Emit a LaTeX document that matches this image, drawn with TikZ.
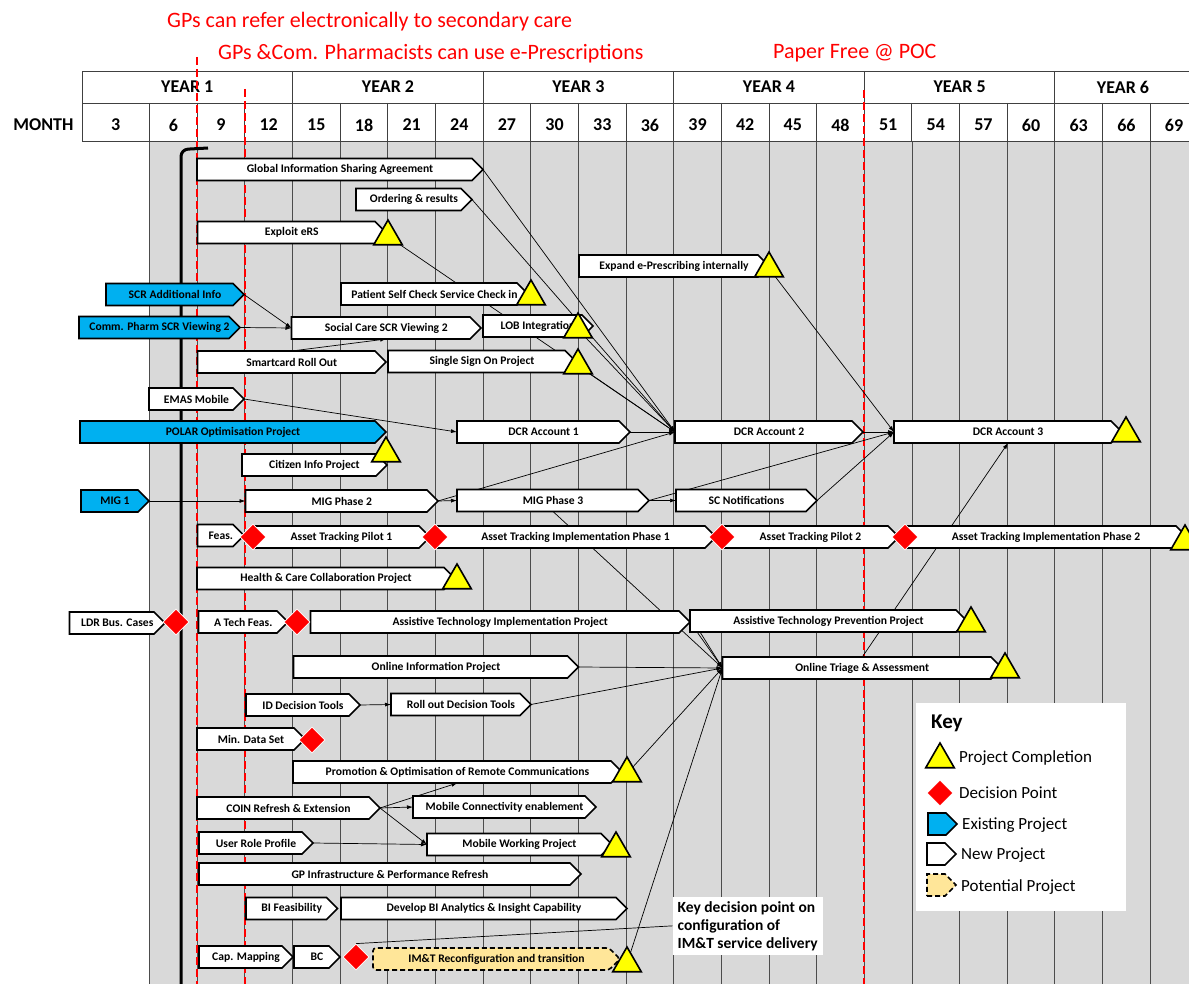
\documentclass[tikz,border=0pt]{standalone}
\usepackage{fontspec}
\setmainfont{Carlito}
\usetikzlibrary{shapes.geometric,arrows.meta,calc}
\pgfdeclarelayer{grid}
\pgfdeclarelayer{lines}
\pgfdeclarelayer{bars}
\pgfsetlayers{grid,lines,bars,main}
\definecolor{gridgray}{HTML}{D9D9D9}
\definecolor{existblue}{HTML}{00B0F0}
\definecolor{potyellow}{HTML}{FFE699}
\definecolor{compyellow}{HTML}{FFFF00}
\definecolor{decred}{HTML}{FF0000}
\tikzset{
  bartext/.style={inner sep=0pt, outer sep=0pt, minimum height=22pt, font=\fontsize{11.6}{13}\selectfont\bfseries, anchor=west},
  barshape/.style={draw=black, line width=1.6pt, fill=white},
  existing/.style={fill=existblue},
  potential/.style={fill=potyellow, dash pattern=on 5pt off 3pt},
  completion/.style={regular polygon, regular polygon sides=3, minimum size=33pt, inner sep=0pt, outer sep=0pt, fill=compyellow, draw=black, line width=1.6pt},
  decision/.style={diamond, minimum width=26pt, minimum height=26pt, inner sep=0pt, fill=decred, draw=white, line width=0.8pt},
  link/.style={black, line width=0.7pt, -{Latex[length=6pt,width=4pt]}},
  plainlink/.style={black, line width=0.7pt},
  milestone/.style={draw=red, dash pattern=on 8pt off 4pt, line width=2.2pt},
  annot/.style={text=red, font=\fontsize{22}{24}\selectfont, anchor=west, inner sep=0pt},
  hdr/.style={font=\fontsize{18}{20}\selectfont\bfseries, inner sep=0pt},
  hdrline/.style={draw=black!75, line width=0.9pt},
  gridline/.style={draw=black!70, line width=0.8pt},
  keytxt/.style={font=\fontsize{17}{19}\selectfont, anchor=west, inner sep=0pt},
}
\newcommand\proj[6]{%
  \node[bartext, minimum width={#4-#3}] (#2) at (#3,#5) {#6};
  \begin{pgfonlayer}{bars}
    \draw[barshape,#1] (#2.south west) -- ([xshift=-11pt]#2.south east) -- (#2.east) -- ([xshift=-11pt]#2.north east) -- (#2.north west) -- cycle;
  \end{pgfonlayer}}
\begin{document}
\begin{tikzpicture}[x=1pt,y=-1pt]
\useasboundingbox (0,0) rectangle (1189,984);
\begin{pgfonlayer}{grid}
\fill[white] (0,0) rectangle (1189,984);
\fill[gridgray] (149.6,141) rectangle (1189,984);
\foreach \m in {3,6,...,66}{\draw[gridline] ({292.5+(\m-12)*15.883},141) -- ({292.5+(\m-12)*15.883},984);}
\draw[hdrline] (82,71) rectangle (1189,141);
\draw[hdrline] (82,103) -- (1189,103);
\foreach \m in {12,24,36,48,60}{\draw[hdrline] ({292.5+(\m-12)*15.883},71) -- ({292.5+(\m-12)*15.883},103);}
\foreach \m in {3,6,...,66}{\draw[hdrline] ({292.5+(\m-12)*15.883},103) -- ({292.5+(\m-12)*15.883},141);}
\node[hdr] (monthlbl) at (43.5,125) {MONTH};
\node[hdr] (m3) at (115.8,125) {3};
\foreach \m in {6,9,...,69}{\node[hdr] (m\m) at ({292.5+(\m-12)*15.883-23.8},125) {\m};}
\node[hdr] (yr1) at (187.3,87) {YEAR 1};
\node[hdr] (yr2) at (388,87) {YEAR 2};
\node[hdr] (yr3) at (578.4,87) {YEAR 3};
\node[hdr] (yr4) at (769,87) {YEAR 4};
\node[hdr] (yr5) at (959.6,87) {YEAR 5};
\node[hdr] (yr6) at (1123,87) {YEAR 6};
\draw[milestone] (197.2,57) -- (197.2,984);
\draw[milestone] (244.8,89) -- (244.8,984);
\draw[milestone] (864.3,90) -- (864.3,984);
\draw[line width=3pt, rounded corners=7pt] (208,148) -- (181,149.5) -- (181,990);
\end{pgfonlayer}
\node[annot] (ann1) at (167,22) {GPs can refer electronically to secondary care};
\node[annot] (ann2) at (218,54) {GPs \&Com. Pharmacists can use e-Prescriptions};
\node[annot] (ann3) at (773,53) {Paper Free @ POC};
% projects
\proj{}{gisa}{197}{483}{169.5}{Global Information Sharing Agreement}
\proj{}{ord}{356}{472}{199.5}{Ordering \& results}
\proj{}{ers}{197.5}{386}{232.5}{Exploit eRS}
\proj{}{expand}{579}{769}{266}{Expand e-Prescribing internally}
\proj{existing}{scradd}{106}{244}{294.5}{SCR Additional Info}
\proj{}{psc}{341}{528}{294}{Patient Self Check Service Check in}
\proj{existing}{commph}{79}{240}{327.5}{Comm. Pharm SCR Viewing 2}
\proj{}{social}{291.5}{481}{328}{Social Care SCR Viewing 2}
\proj{}{lob}{483}{593}{326}{LOB Integration}
\proj{}{smart}{197.5}{386}{362}{Smartcard Roll Out}
\proj{}{sso}{388}{576}{361.5}{Single Sign On Project}
\proj{}{emas}{149}{244}{399}{EMAS Mobile}
\proj{existing}{polar}{80}{386}{432}{POLAR Optimisation Project}
\proj{}{citizen}{242}{387}{465}{Citizen Info Project}
\proj{}{dcr1}{457}{630}{432}{DCR Account 1}
\proj{}{dcr2}{675}{863}{432}{DCR Account 2}
\proj{}{dcr3}{894}{1122}{432}{DCR Account 3}
\proj{existing}{mig1}{81}{149}{501}{MIG 1}
\proj{}{mig2}{245.5}{438}{501}{MIG Phase 2}
\proj{}{mig3}{457}{649}{500.5}{MIG Phase 3}
\proj{}{scn}{676}{817}{500.5}{SC Notifications}
\proj{}{feas}{197.5}{244}{535.5}{Feas.}
\proj{}{atp1}{253}{430}{537}{Asset Tracking Pilot 1}
\proj{}{ati1}{435}{716}{537}{Asset Tracking Implementation Phase 1}
\proj{}{atp2}{722}{899}{537}{Asset Tracking Pilot 2}
\proj{}{ati2}{905}{1187}{537}{Asset Tracking Implementation Phase 2}
\proj{}{hcc}{197}{455}{578.5}{Health \& Care Collaboration Project}
\proj{}{ldr}{69.5}{165}{623}{LDR Bus. Cases}
\proj{}{atfeas}{198.5}{288}{622}{A Tech Feas.}
\proj{}{atimpl}{310.5}{690}{622}{Assistive Technology Implementation Project}
\proj{}{atprev}{690}{967}{621}{Assistive Technology Prevention Project}
\proj{}{oinfo}{293.5}{578.5}{667}{Online Information Project}
\proj{}{triage}{722.5}{1002}{668}{Online Triage \& Assessment}
\proj{}{iddt}{246}{360}{705}{ID Decision Tools}
\proj{}{rollout}{391}{531}{704.5}{Roll out Decision Tools}
\proj{}{mds}{197}{305}{739}{Min. Data Set}
\proj{}{promo}{293}{622}{772}{Promotion \& Optimisation of Remote Communications}
\proj{}{coin}{197}{380}{808}{COIN Refresh \& Extension}
\proj{}{mobconn}{413}{596}{807}{Mobile Connectivity enablement}
\proj{}{urp}{199}{313}{843}{User Role Profile}
\proj{}{mobwork}{427}{612}{844.5}{Mobile Working Project}
\proj{}{gpinf}{199}{581}{874}{GP Infrastructure \& Performance Refresh}
\proj{}{bifeas}{246}{337.5}{908.5}{BI Feasibility}
\proj{}{devbi}{341}{627}{908.5}{Develop BI Analytics \& Insight Capability}
\proj{}{capmap}{199}{293}{957}{Cap. Mapping}
\proj{}{bc}{294}{340}{957}{BC}
\proj{potential,rounded corners=3pt}{imt}{373}{620}{959}{IM\&T Reconfiguration and transition}
% completions
\node[completion] (t-ers) at (388,236.5) {};
\node[completion] (t-expand) at (769,268.5) {};
\node[completion] (t-psc) at (531,296.5) {};
\node[completion] (t-lob) at (578,329.5) {};
\node[completion] (t-sso) at (578,365.5) {};
\node[completion] (t-polar) at (386,453.5) {};
\node[completion] (t-dcr3) at (1126,433.5) {};
\node[completion] (t-ati2) at (1185,541.5) {};
\node[completion] (t-hcc) at (457,580.5) {};
\node[completion] (t-atprev) at (971,623.5) {};
\node[completion] (t-triage) at (1005,669.5) {};
\node[completion] (t-promo) at (627,773.5) {};
\node[completion] (t-mobwork) at (616,848.5) {};
\node[completion] (t-imt) at (627,963.5) {};
% decisions
\node[decision] (d-atp1) at (253,537) {};
\node[decision] (d-ati1) at (435,537) {};
\node[decision] (d-atp2) at (722,537) {};
\node[decision] (d-ati2) at (905,537) {};
\node[decision] (d-ldr) at (176,622) {};
\node[decision] (d-atfeas) at (297,622) {};
\node[decision] (d-mds) at (312,740) {};
\node[decision] (d-bc) at (356,957) {};
% key decision note
\node[fill=white, align=left, anchor=north west, font=\fontsize{15.5}{18}\selectfont\bfseries, inner xsep=5pt, inner ysep=4pt] (keytext) at (672.5,897) {Key decision point on\\configuration of\\IM\&T service delivery};
% key
\begin{pgfonlayer}{bars}
\node[fill=white, minimum width=210pt, minimum height=208pt, anchor=north west, inner sep=0pt] (keybox) at (916,703) {};
\end{pgfonlayer}
\node[font=\fontsize{21}{23}\selectfont\bfseries, anchor=west, inner sep=0pt] (keytitle) at (931,723) {Key};
\node[completion] (k-tri) at (940,759.5) {};
\node[keytxt] (k-tri-l) at (959,758) {Project Completion};
\node[decision] (k-dia) at (940,793) {};
\node[keytxt] (k-dia-l) at (959,793) {Decision Point};
\proj{existing}{k-exist}{928}{957}{824}{}
\node[keytxt] (k-exist-l) at (962,825) {Existing Project};
\proj{}{k-new}{927}{956}{854}{}
\node[keytxt] (k-new-l) at (961,855) {New Project};
\proj{potential}{k-pot}{927}{956}{885}{}
\node[keytxt] (k-pot-l) at (961,887) {Potential Project};
% connectors
\begin{pgfonlayer}{lines}
\draw[link] (gisa.east) -- (dcr2.west);
\draw[link] (ord.east) -- (dcr2.west);
\draw[link] (t-ers) -- (dcr2.west);
\draw[link] (t-lob) -- (dcr2.west);
\draw[link] (t-sso) -- (dcr2.west);
\draw[link] (dcr1.east) -- (dcr2.west);
\draw[link] (mig2.east) -- (dcr2.west);
\draw[link] (t-expand) -- (dcr3.west);
\draw[link] (dcr2.east) -- (dcr3.west);
\draw[link] (mig3.east) -- (dcr3.west);
\draw[link] (scn.east) -- (dcr3.west);
\draw[link] (triage.north) -- (dcr3.south);
\draw[link] (scradd.east) -- (social.west);
\draw[link] (commph.east) -- (social.west);
\draw[link] (smart.north) -- (social.south);
\draw[link] (emas.east) -- (dcr1.west);
\draw[link] (mig1.east) -- (mig2.west);
\draw[link] (mig2.east) -- (mig3.west);
\draw[link] (mig3.east) -- (scn.west);
\draw[link] (mig3.south) -- (triage.west);
\draw[link] (atimpl.east) -- (triage.west);
\draw[link] ([xshift=10pt]atprev.south west) -- (triage.west);
\draw[link] (oinfo.east) -- (triage.west);
\draw[link] (rollout.east) -- (triage.west);
\draw[link] (t-promo) -- (triage.west);
\draw[link] (t-imt) -- (triage.west);
\draw[link] (iddt.east) -- (rollout.west);
\draw[link] (coin.east) -- (mobconn.west);
\draw[link] (coin.east) -- (promo.south);
\draw[link] (coin.east) -- (mobwork.west);
\draw[link] (urp.east) -- (mobwork.west);
\draw[plainlink] (keytext.west) -- (d-bc.north);
\end{pgfonlayer}
\end{tikzpicture}
\end{document}
